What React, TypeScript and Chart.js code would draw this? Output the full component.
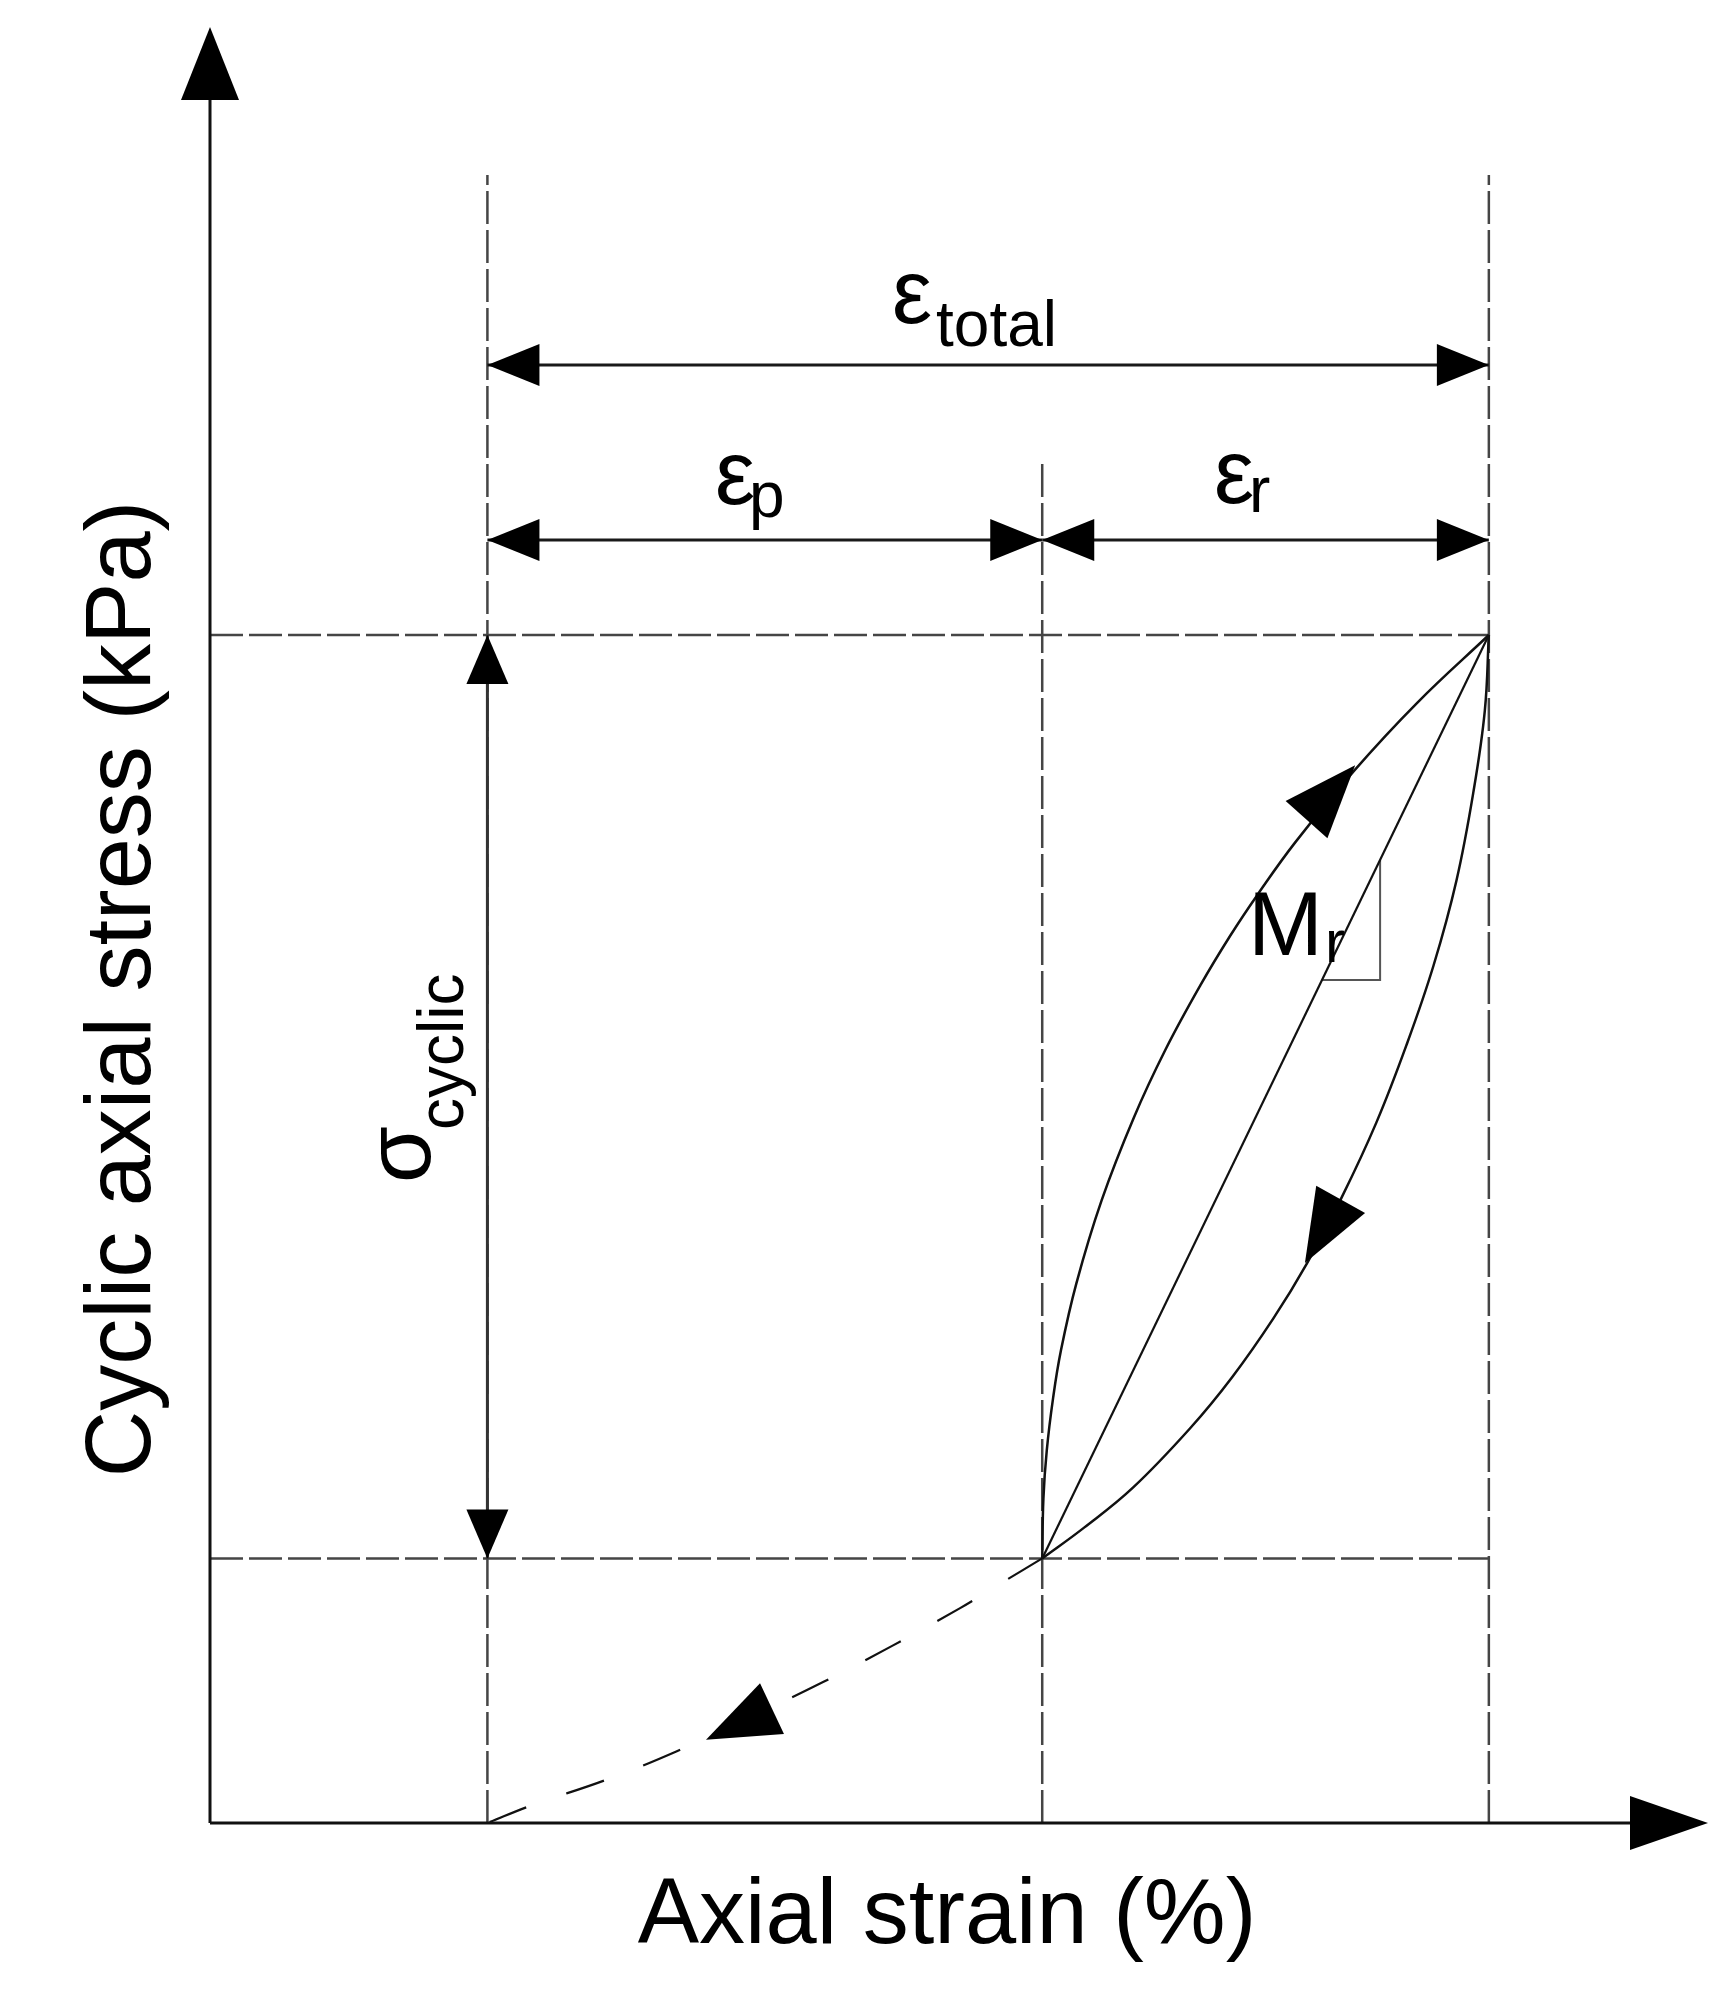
import React, { useEffect, useRef } from "react";
import { Chart, registerables } from "chart.js";

Chart.register(...registerables);

// ---- Schematic data (strain in %, stress in kPa) ----
const strainRange = [0, 5.4];
const stressRange = [0, 332.6];

// permanent-strain start, start of load cycle, peak strain
const strainLevels = [1.0, 3.0, 4.61];
// minimum and maximum cyclic stress
const stressLevels = [49, 220];

const loadingStrain = [3.0, 3.0043, 3.0164, 3.0389, 3.0674, 3.1229, 3.2141, 3.3309, 3.4432, 3.5698, 3.6788, 3.7787, 3.912, 4.1247, 4.3526, 4.61];
const loadingStress = [49.0, 60.1, 69.0, 78.6, 87.5, 99.9, 115.3, 130.7, 143.1, 155.1, 164.4, 172.1, 181.6, 194.9, 207.5, 220.0];

const unloadingStrain = [3.0, 3.151, 3.327, 3.5332, 3.6838, 3.8327, 3.9539, 4.08, 4.2044, 4.3126, 4.4106, 4.4935, 4.5552, 4.5955, 4.61];
const unloadingStress = [49.0, 54.7, 62.1, 73.1, 82.5, 93.4, 103.6, 115.9, 129.7, 144.0, 158.8, 174.6, 191.2, 206.0, 220.0];

const initialStrain = [3.0, 2.848, 2.704, 2.459, 2.21, 1.947, 1.683, 1.428, 1.161, 1.0];
const initialStress = [49, 44.3, 39.8, 32.8, 26.1, 19.6, 13.3, 8.0, 3.3, 0];

const secantStrain = [3.0, 4.61];
const secantStress = [49, 220];

const slopeTriStrain = [4.008, 4.218, 4.218];
const slopeTriStress = [156.1, 156.1, 178.4];

// guide line tops (stress) for the three vertical guides
const guideTopStress = [305.2, 252.0, 305.2];
// dimension arrow levels (stress)
const dimLevels = [270.0, 237.6];

// arrowheads on curves: tip (x,y) and a point behind it
const curveArrowTipStrain = [4.128, 3.947, 1.788];
const curveArrowTipStress = [195.9, 103.7, 15.4];
const curveArrowTailStrain = [3.949, 4.077, 2.035];
const curveArrowTailStress = [185.6, 115.6, 21.4];

const FONT = '"Liberation Sans", Arial, Helvetica, sans-serif';

const pts = (xs: number[], ys: number[]) => xs.map((x, i) => ({ x, y: ys[i] }));

function head(ctx: CanvasRenderingContext2D, tx: number, ty: number, fx: number, fy: number, len: number, half: number) {
  const dx = tx - fx;
  const dy = ty - fy;
  const d = Math.hypot(dx, dy) || 1;
  const ux = dx / d;
  const uy = dy / d;
  const bx = tx - ux * len;
  const by = ty - uy * len;
  ctx.beginPath();
  ctx.moveTo(tx, ty);
  ctx.lineTo(bx - uy * half, by + ux * half);
  ctx.lineTo(bx + uy * half, by - ux * half);
  ctx.closePath();
  ctx.fill();
}

function dimArrow(ctx: CanvasRenderingContext2D, x1: number, y1: number, x2: number, y2: number, len: number, half: number) {
  ctx.beginPath();
  ctx.moveTo(x1, y1);
  ctx.lineTo(x2, y2);
  ctx.stroke();
  head(ctx, x1, y1, x2, y2, len, half);
  head(ctx, x2, y2, x1, y1, len, half);
}

function subText(
  ctx: CanvasRenderingContext2D,
  main: string,
  sub: string,
  mainInkX: number,
  mainBase: number,
  subInkX: number,
  subBase: number,
  mainSize: number,
  subSize: number
) {
  ctx.textAlign = "left";
  ctx.textBaseline = "alphabetic";
  ctx.font = `${mainSize}px ${FONT}`;
  const m = ctx.measureText(main);
  ctx.fillText(main, mainInkX + m.actualBoundingBoxLeft, mainBase);
  ctx.font = `${subSize}px ${FONT}`;
  const s = ctx.measureText(sub);
  ctx.fillText(sub, subInkX + s.actualBoundingBoxLeft, subBase);
}

const schematicPlugin = {
  id: "schematic",
  afterDatasetsDraw(chart: any) {
    const ctx: CanvasRenderingContext2D = chart.ctx;
    const { left, right, top, bottom } = chart.chartArea;
    const xs = chart.scales.x;
    const ys = chart.scales.y;
    const px = (v: number) => xs.getPixelForValue(v);
    const py = (v: number) => ys.getPixelForValue(v);

    ctx.save();
    ctx.fillStyle = "#000";
    ctx.strokeStyle = "#111";

    // axes
    ctx.lineWidth = 3;
    ctx.beginPath();
    ctx.moveTo(left, bottom);
    ctx.lineTo(left, top + 60);
    ctx.moveTo(left, bottom);
    ctx.lineTo(right - 60, bottom);
    ctx.stroke();
    head(ctx, left, top, left, top + 100, 73, 29);
    head(ctx, right, bottom, right - 100, bottom, 78, 27);

    // dimension arrows
    ctx.lineWidth = 3;
    ctx.strokeStyle = "#1a1a1a";
    dimArrow(ctx, px(strainLevels[0]), py(dimLevels[0]), px(strainLevels[2]), py(dimLevels[0]), 52, 21);
    dimArrow(ctx, px(strainLevels[0]), py(dimLevels[1]), px(strainLevels[1]), py(dimLevels[1]), 52, 21);
    dimArrow(ctx, px(strainLevels[1]), py(dimLevels[1]), px(strainLevels[2]), py(dimLevels[1]), 52, 21);
    ctx.strokeStyle = "#333";
    dimArrow(ctx, px(strainLevels[0]), py(stressLevels[1]), px(strainLevels[0]), py(stressLevels[0]), 49, 21);

    // arrowheads on curves
    for (let i = 0; i < curveArrowTipStrain.length; i++) {
      head(
        ctx,
        px(curveArrowTipStrain[i]),
        py(curveArrowTipStress[i]),
        px(curveArrowTailStrain[i]),
        py(curveArrowTailStress[i]),
        73,
        28
      );
    }

    // labels
    ctx.fillStyle = "#000";
    subText(ctx, "\u03b5", "total", 895, 323, 936, 346, 90, 64);
    subText(ctx, "\u03b5", "p", 718, 504, 753, 517, 90, 64);
    subText(ctx, "\u03b5", "r", 1217, 503, 1253, 512, 90, 64);
    subText(ctx, "M", "r", 1255, 955, 1328, 962, 90, 60);

    // sigma cyclic (rotated)
    ctx.save();
    ctx.translate(430, 1180);
    ctx.rotate(-Math.PI / 2);
    subText(ctx, "\u03c3", "cyclic", 0, 0, 52, 33, 92, 64);
    ctx.restore();

    // axis titles
    ctx.font = `92px ${FONT}`;
    ctx.textAlign = "center";
    ctx.textBaseline = "alphabetic";
    ctx.fillText("Axial strain (%)", 947, 1943);
    ctx.save();
    ctx.translate(150, 989);
    ctx.rotate(-Math.PI / 2);
    ctx.fillText("Cyclic axial stress (kPa)", 0, 0);
    ctx.restore();

    ctx.restore();
  },
};

export default function App() {
  const ref = useRef<HTMLCanvasElement | null>(null);

  useEffect(() => {
    if (!ref.current) return;
    const curve = { showLine: true, pointRadius: 0, borderColor: "#111", borderWidth: 2.5, fill: false };
    const guide = { showLine: true, pointRadius: 0, borderColor: "#454545", borderWidth: 2.5, borderDash: [33, 6], tension: 0, fill: false };
    const chart = new Chart(ref.current, {
      type: "scatter",
      data: {
        datasets: [
          { ...curve, label: "Loading", data: pts(loadingStrain, loadingStress), tension: 0.4 },
          { ...curve, label: "Unloading", data: pts(unloadingStrain, unloadingStress), tension: 0.4 },
          { ...curve, label: "Resilient modulus", data: pts(secantStrain, secantStress), tension: 0, borderWidth: 2.2 },
          { ...curve, label: "Initial", data: pts(initialStrain, initialStress), tension: 0.4, borderWidth: 2.2, borderDash: [40, 42] },
          { ...curve, label: "Slope", data: pts(slopeTriStrain, slopeTriStress), tension: 0, borderColor: "#555", borderWidth: 2 },
          { ...guide, label: "g1", data: pts([strainLevels[0], strainLevels[0]], [0, guideTopStress[0]]) },
          { ...guide, label: "g2", data: pts([strainLevels[1], strainLevels[1]], [0, guideTopStress[1]]) },
          { ...guide, label: "g3", data: pts([strainLevels[2], strainLevels[2]], [0, guideTopStress[2]]) },
          { ...guide, label: "h1", data: pts([0, strainLevels[2]], [stressLevels[1], stressLevels[1]]) },
          { ...guide, label: "h2", data: pts([0, strainLevels[2]], [stressLevels[0], stressLevels[0]]) },
        ],
      },
      options: {
        animation: false,
        responsive: false,
        devicePixelRatio: 1,
        layout: { padding: { left: 210, right: 4, top: 27, bottom: 177 } },
        plugins: { legend: { display: false }, tooltip: { enabled: false } },
        events: [],
        scales: {
          x: { type: "linear", min: strainRange[0], max: strainRange[1], display: false },
          y: { type: "linear", min: stressRange[0], max: stressRange[1], display: false },
        },
      },
      plugins: [schematicPlugin],
    } as any);
    return () => chart.destroy();
  }, []);

  return (
    <div style={{ position: "absolute", left: 0, top: 0, width: 1712, height: 2000, background: "#fff" }}>
      <canvas ref={ref} width={1712} height={2000} style={{ width: 1712, height: 2000, display: "block" }} />
    </div>
  );
}
